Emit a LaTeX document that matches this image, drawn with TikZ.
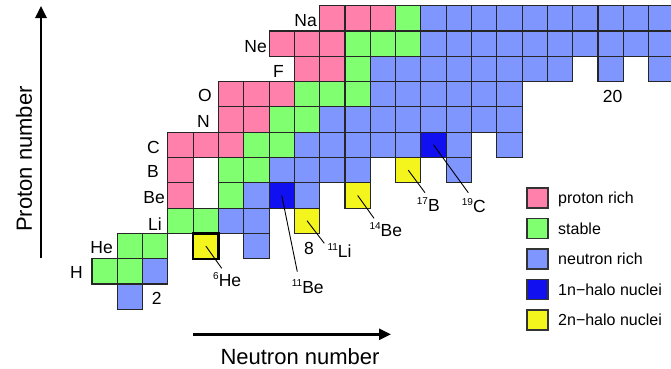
\documentclass[tikz,border=0pt]{standalone}
\usepackage{fontspec}
\setmainfont{Liberation Sans}
\usetikzlibrary{arrows.meta}
\definecolor{prc}{RGB}{255,128,170}
\definecolor{stc}{RGB}{128,255,112}
\definecolor{nrc}{RGB}{128,150,255}
\definecolor{hac}{RGB}{16,16,240}
\definecolor{hbc}{RGB}{245,245,30}
\newcommand{\mysup}[1]{\raisebox{7pt}{\fontsize{10}{10}\selectfont #1}}
\begin{document}
\begin{tikzpicture}[x=1pt,y=-1pt,
  cellbox/.style={draw=black!85, line width=1.1pt, minimum size=25.3pt, inner sep=0pt, outer sep=0pt},
  ellab/.style={font=\fontsize{17.5}{18}\selectfont, inner sep=0pt, anchor=base east},
  isolab/.style={font=\fontsize{17.5}{18}\selectfont, inner sep=0pt, anchor=base west},
  magic/.style={font=\fontsize{17.5}{18}\selectfont, inner sep=0pt},
  conn/.style={draw=black, line width=0.9pt},
  axisline/.style={line width=2.5pt, -{Triangle[length=12pt,width=11pt]}},
  axlab/.style={font=\fontsize{22}{24}\selectfont, inner sep=0pt},
  legbox/.style={draw=black!80, line width=1.3pt, minimum width=21pt, minimum height=20pt, inner sep=0pt, outer sep=0pt},
  legtext/.style={font=\fontsize{16}{17}\selectfont, inner sep=0pt, anchor=base west}
]
\useasboundingbox (0,0) rectangle (671,368);
\clip (0,0) rectangle (671,368);
% proton rich
\foreach \n/\z in {3/4, 3/5, 3/6,4/6,5/6, 5/7,6/7, 5/8,6/8,7/8, 8/9,9/9, 7/10,8/10,9/10, 9/11,10/11,11/11}
  \node[cellbox, fill=prc] (c-\n-\z) at ({104.65+25.3*\n},{296.65-25.3*\z}) {};
% stable
\foreach \n/\z in {0/1,1/1, 1/2,2/2, 3/3,4/3, 5/4, 5/5,6/5, 6/6,7/6, 7/7,8/7, 8/8,9/8,10/8, 10/9, 10/10,11/10,12/10, 12/11}
  \node[cellbox, fill=stc] (c-\n-\z) at ({104.65+25.3*\n},{296.65-25.3*\z}) {};
% neutron rich (single)
\foreach \n/\z in {1/0, 2/1, 6/2, 5/3,6/3, 6/4,8/4, 14/5, 14/6, 16/6, 20/9, 22/9}
  \node[cellbox, fill=nrc] (c-\n-\z) at ({104.65+25.3*\n},{296.65-25.3*\z}) {};
% neutron rich (ranges)
\foreach \z/\a/\b in {5/7/10, 6/8/12, 7/9/16, 8/11/16, 9/11/18, 10/13/22, 11/13/22}
  \foreach \n in {\a,...,\b}
    \node[cellbox, fill=nrc] (c-\n-\z) at ({104.65+25.3*\n},{296.65-25.3*\z}) {};
% 1n halo
\foreach \n/\z in {7/4, 13/6}
  \node[cellbox, fill=hac] (c-\n-\z) at ({104.65+25.3*\n},{296.65-25.3*\z}) {};
% 2n halo
\foreach \n/\z in {8/3, 10/4, 12/5}
  \node[cellbox, fill=hbc] (c-\n-\z) at ({104.65+25.3*\n},{296.65-25.3*\z}) {};
\node[cellbox, fill=hbc, line width=2.2pt, draw=black] (c-4-2) at ({104.65+25.3*4},{296.65-25.3*2}) {};

% element labels
\node[ellab] (lH) at (83,278) {H};
\node[ellab] (lHe) at (113,253) {He};
\node[ellab] (lLi) at (162,230) {Li};
\node[ellab] (lBe) at (165,203) {Be};
\node[ellab] (lB) at (159,177.3) {B};
\node[ellab] (lC) at (160,153) {C};
\node[ellab] (lN) at (210,127) {N};
\node[ellab] (lO) at (212,101.3) {O};
\node[ellab] (lF) at (284,77) {F};
\node[ellab] (lNe) at (267,52) {Ne};
\node[ellab] (lNa) at (317,26.7) {Na};

% magic numbers
\node[magic] (m2) at (156.7,298) {2};
\node[magic] (m8) at (309,248.7) {8};
\node[magic] (m20) at (612.5,96) {20};

% isotope labels
\node[isolab] (t6He) at (213,286.7) {\mysup{6}He};
\node[isolab] (t11Be) at (291.7,293.3) {\mysup{11}Be};
\node[isolab] (t11Li) at (327.3,257.3) {\mysup{11}Li};
\node[isolab] (t14Be) at (369.3,236.7) {\mysup{14}Be};
\node[isolab] (t17B) at (416.7,211.7) {\mysup{17}B};
\node[isolab] (t19C) at (461.7,212) {\mysup{19}C};

\coordinate (e6He) at (221.7,268.3);
\coordinate (e11Be) at (297.3,271.7);
\coordinate (e11Li) at (324.3,243.3);
\coordinate (e14Be) at (374,218.3);
\coordinate (e17B) at (425,192.7);
\coordinate (e19C) at (468.3,192.7);
\draw[conn] (c-4-2.center) -- (e6He);
\draw[conn] (c-7-4.center) -- (e11Be);
\draw[conn] (c-8-3.center) -- (e11Li);
\draw[conn] (c-10-4.center) -- (e14Be);
\draw[conn] (c-12-5.center) -- (e17B);
\draw[conn] (c-13-6.center) -- (e19C);

% axes
\coordinate (ya) at (41,258);
\coordinate (yb) at (41,6);
\coordinate (xa) at (193,334.3);
\coordinate (xb) at (391,334.3);
\draw[axisline] (ya) -- (yb);
\draw[axisline] (xa) -- (xb);
\node[axlab, rotate=90] (ylab) at (24,159) {Proton number};
\node[axlab] (xlab) at (300,357) {Neutron number};

% legend
\node[legbox, fill=prc] (k1) at (537.5,198) {};
\node[legbox, fill=stc] (k2) at (537.5,228.5) {};
\node[legbox, fill=nrc] (k3) at (537.5,259) {};
\node[legbox, fill=hac] (k4) at (537.5,289.5) {};
\node[legbox, fill=hbc] (k5) at (537.5,320) {};
\node[legtext] (k1t) at (558,203.5) {proton rich};
\node[legtext] (k2t) at (558,234) {stable};
\node[legtext] (k3t) at (558,264.5) {neutron rich};
\node[legtext] (k4t) at (558,295) {1n−halo nuclei};
\node[legtext] (k5t) at (558,325.5) {2n−halo nuclei};
\end{tikzpicture}
\end{document}
